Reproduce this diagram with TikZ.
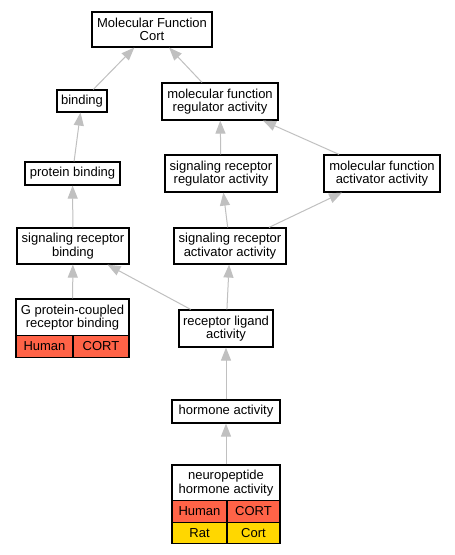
\documentclass[tikz,border=0pt]{standalone}
\usepackage{fontspec}
\setmainfont{Liberation Sans}
\usetikzlibrary{arrows.meta}
\definecolor{edgegray}{RGB}{192,192,192}
\definecolor{humanred}{RGB}{255,99,71}
\definecolor{ratgold}{RGB}{255,215,0}
\tikzset{
  box/.style={draw=black, line width=1.2pt, fill=white, inner sep=0pt, align=center,
    font=\fontsize{13pt}{13.5pt}\selectfont},
  cell/.style={box, minimum height=21.5pt},
  redcell/.style={cell, fill=humanred},
  goldcell/.style={cell, fill=ratgold},
  edge/.style={draw=edgegray, line width=1pt, -{Triangle[length=13pt,width=10pt,fill=edgegray]}}
}
\begin{document}
\begin{tikzpicture}[x=1pt,y=-1pt]
\useasboundingbox (0,0) rectangle (455,555);
\fill[white] (0,0) rectangle (455,555);
\node[box, minimum width=120pt, minimum height=35pt] (mfc) at (152,29.5) {Molecular Function\\Cort};
\node[box, minimum width=50pt, minimum height=22pt] (bind) at (82,101) {binding};
\node[box, minimum width=116pt, minimum height=37pt] (mfra) at (220,101.5) {molecular function\\regulator activity};
\node[box, minimum width=95pt, minimum height=23pt] (pb) at (72.5,173.5) {protein binding};
\node[box, minimum width=112pt, minimum height=37pt] (srra) at (221,173.5) {signaling receptor\\regulator activity};
\node[box, minimum width=116pt, minimum height=37pt] (mfaa) at (382,173.5) {molecular function\\activator activity};
\node[box, minimum width=112pt, minimum height=36pt] (srb) at (73,246) {signaling receptor\\binding};
\node[box, minimum width=112pt, minimum height=36pt] (sraa) at (230,246) {signaling receptor\\activator activity};
\node[box, minimum width=113pt, minimum height=37pt] (gpcr) at (72.5,317.5) {G protein-coupled\\receptor binding};
\node[redcell, minimum width=57pt] (gpcrh) at (44.5,346.5) {Human};
\node[redcell, minimum width=56pt] (gpcrc) at (101,346.5) {CORT};
\node[box, minimum width=94pt, minimum height=37pt] (rla) at (226,328.5) {receptor ligand\\activity};
\node[box, minimum width=108pt, minimum height=23pt] (ha) at (226,411.5) {hormone activity};
\node[box, minimum width=108pt, minimum height=36pt] (nha) at (226,483) {neuropeptide\\hormone activity};
\node[redcell, minimum width=55pt] (nhah) at (199.5,511.5) {Human};
\node[redcell, minimum width=53pt] (nhac) at (253.5,511.5) {CORT};
\node[goldcell, minimum width=55pt] (nhar) at (199.5,533) {Rat};
\node[goldcell, minimum width=53pt] (nharc) at (253.5,533) {Cort};
\draw[edge] (bind) -- (mfc);
\draw[edge] (mfra) -- (mfc);
\draw[edge] (pb) -- (bind);
\draw[edge] (srra) -- (mfra);
\draw[edge] (mfaa) -- (mfra);
\draw[edge] (srb) -- (pb);
\draw[edge] (sraa) -- (srra);
\draw[edge] (sraa) -- (mfaa);
\draw[edge] (gpcr) -- (srb);
\draw[edge] (rla) -- (srb);
\draw[edge] (rla) -- (sraa);
\draw[edge] (ha) -- (rla);
\draw[edge] (nha) -- (ha);
\end{tikzpicture}
\end{document}
